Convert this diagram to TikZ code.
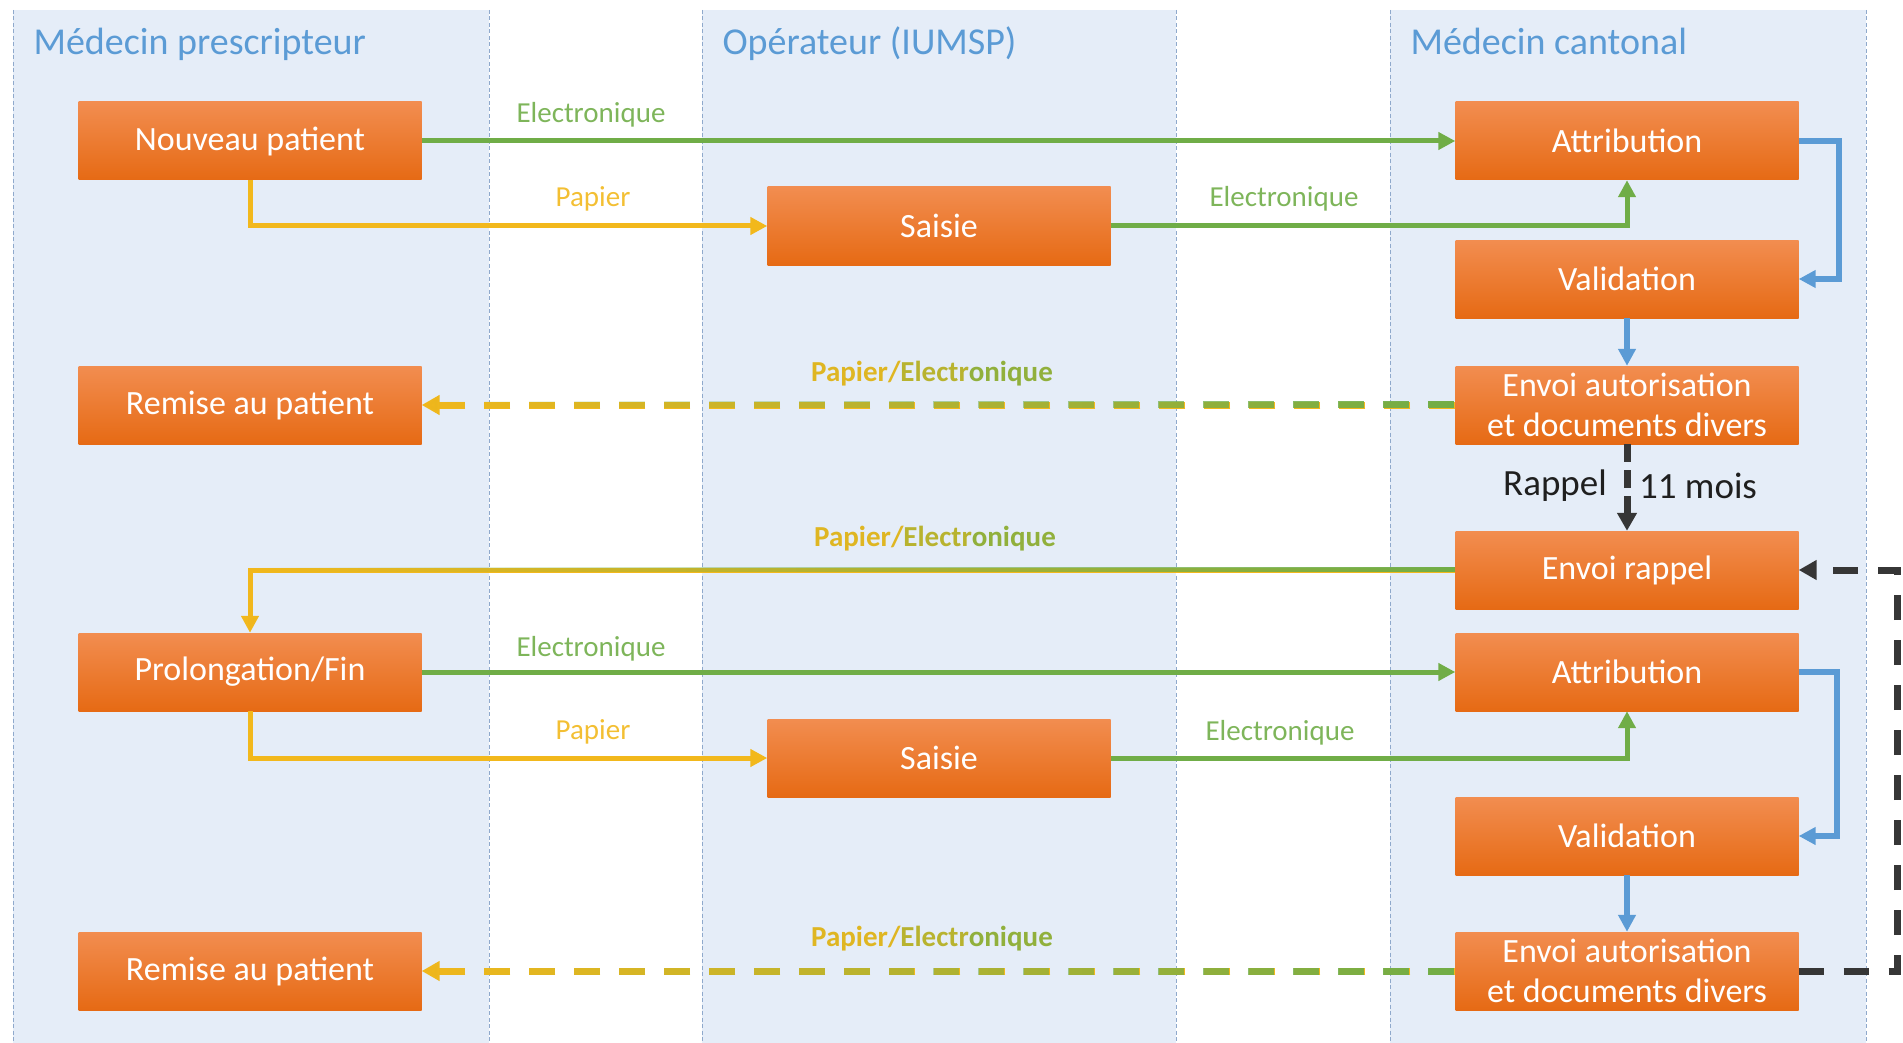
\documentclass[tikz,border=0pt]{standalone}
\usepackage{fontspec}
\setmainfont{Carlito}
\usetikzlibrary{arrows.meta,calc,fadings}

\definecolor{laneblue}{HTML}{E5EDF8}
\definecolor{laneline}{HTML}{8FA9CC}
\definecolor{titleblue}{HTML}{5B9BD5}
\definecolor{boxtop}{HTML}{F28D50}
\definecolor{boxbottom}{HTML}{E66A14}
\definecolor{elecgreen}{HTML}{70AD47}
\definecolor{papgold}{HTML}{F2B81C}
\definecolor{flowblue}{HTML}{5B9BD5}
\definecolor{reminder}{HTML}{363636}

\newcommand{\papierelec}{\textcolor{papgold!85!elecgreen}{Papier/}\textcolor{papgold!55!elecgreen}{Electr}\textcolor{papgold!25!elecgreen}{onique}}

\begin{document}
\begin{tikzpicture}[x=1pt,y=-1pt,
    etape/.style={rectangle, top color=boxtop, bottom color=boxbottom, draw=none, text=white,
        minimum width=343pt, minimum height=78pt, inner sep=0pt, align=center,
        font=\fontsize{34}{40}\selectfont},
    titre/.style={anchor=base west, text=titleblue, font=\fontsize{38}{44}\selectfont},
    etiq/.style={font=\fontsize{29}{34}\selectfont},
    etiqmix/.style={font=\fontsize{29}{34}\selectfont\bfseries},
    fleche/.style={line width=5pt, -{Triangle[length=17pt,width=17pt]}},
    tirets/.style={line width=7pt, dash pattern=on 26pt off 19pt, -{Triangle[length=18pt,width=19pt]}},
]
    \useasboundingbox (0,0) rectangle (1903,1043);

    % lanes
    \foreach \xa/\xb/\nom [count=\i] in {13/489/{Médecin prescripteur}, 702/1176/{Opérateur (IUMSP)}, 1390/1866/{Médecin cantonal}} {
        \fill[laneblue] (\xa,10) rectangle (\xb,1043);
        \draw[laneline, line width=1pt, dash pattern=on 4pt off 2.5pt] (\xa,10) -- (\xa,1043) (\xb,10) -- (\xb,1043);
        \node[titre] (titre\i) at (\xa+17,55) {\nom};
    }

    % first round
    \node[etape] (nouveau) at (250,141) {Nouveau patient};
    \node[etape] (saisieA) at (939,226) {Saisie};
    \node[etape] (attribA) at (1627,141) {Attribution};
    \node[etape] (validA) at (1627,279) {Validation};
    \node[etape] (envoiA) at (1627,405) {Envoi autorisation\\et documents divers};
    \node[etape] (remiseA) at (250,405) {Remise au patient};

    % reminder and second round
    \node[etape] (rappel) at (1627,570) {Envoi rappel};
    \node[etape] (prolong) at (250,672) {Prolongation/Fin};
    \node[etape] (attribB) at (1627,672) {Attribution};
    \node[etape] (saisieB) at (939,758) {Saisie};
    \node[etape] (validB) at (1627,836) {Validation};
    \node[etape] (envoiB) at (1627,971) {Envoi autorisation\\et documents divers};
    \node[etape] (remiseB) at (250,971) {Remise au patient};

    % labels
    \node[etiq, text=elecgreen!90!white] (elecA) at (591,115) {Electronique};
    \node[etiq, text=papgold!90!white] (papierA) at (593,199) {Papier};
    \node[etiq, text=elecgreen!90!white] (elecAA) at (1284,199) {Electronique};
    \node[etiqmix] (mixA) at (932,374) {\papierelec};
    \node[font=\fontsize{37}{44}\selectfont, text=black!88] (lrappel) at (1555,486) {Rappel};
    \node[font=\fontsize{37}{44}\selectfont, text=black!88] (lmois) at (1698,486) {11 mois};
    \node[etiqmix] (mixB) at (935,539) {\papierelec};
    \node[etiq, text=elecgreen!90!white] (elecB) at (591,649) {Electronique};
    \node[etiq, text=papgold!90!white] (papierB) at (593,732) {Papier};
    \node[etiq, text=elecgreen!90!white] (elecBB) at (1280,733) {Electronique};
    \node[etiqmix] (mixC) at (932,939) {\papierelec};

    % connectors, first round
    \draw[fleche, elecgreen] (nouveau.east) -- (attribA.west);
    \draw[fleche, papgold] (nouveau.south) |- (saisieA.west);
    \draw[fleche, elecgreen] (saisieA.east) -| (attribA.south);
    \draw[fleche, line width=6pt, flowblue] (attribA.east) -- ++(40,0) |- (validA.east);
    \draw[fleche, line width=6pt, flowblue] (validA.south) -- (envoiA.north);
    \draw[tirets, papgold] (envoiA.west) -- (remiseA.east);
    \draw[tirets, elecgreen, path fading=west] (envoiA.west) ++(0,40) ++(0,-80) (envoiA.west) -- (remiseA.east);

    % reminder
    \draw[tirets, reminder, dash pattern=on 18pt off 8pt] (envoiA.south) -- (rappel.north);
    \draw[tirets, reminder, dash pattern=on 25pt off 20pt] (envoiB.east) -- ++(99,0) |- (rappel.east);
    \draw[fleche, papgold] (rappel.west) -| (prolong.north);
    \draw[fleche, elecgreen, path fading=west] (rappel.west) -| (prolong.north);

    % connectors, second round
    \draw[fleche, elecgreen] (prolong.east) -- (attribB.west);
    \draw[fleche, papgold] (prolong.south) |- (saisieB.west);
    \draw[fleche, elecgreen] (saisieB.east) -| (attribB.south);
    \draw[fleche, line width=6pt, flowblue] (attribB.east) -- ++(38,0) |- (validB.east);
    \draw[fleche, line width=6pt, flowblue] (validB.south) -- (envoiB.north);
    \draw[tirets, papgold] (envoiB.west) -- (remiseB.east);
    \draw[tirets, elecgreen, path fading=west] (envoiB.west) ++(0,40) ++(0,-80) (envoiB.west) -- (remiseB.east);
\end{tikzpicture}
\end{document}
